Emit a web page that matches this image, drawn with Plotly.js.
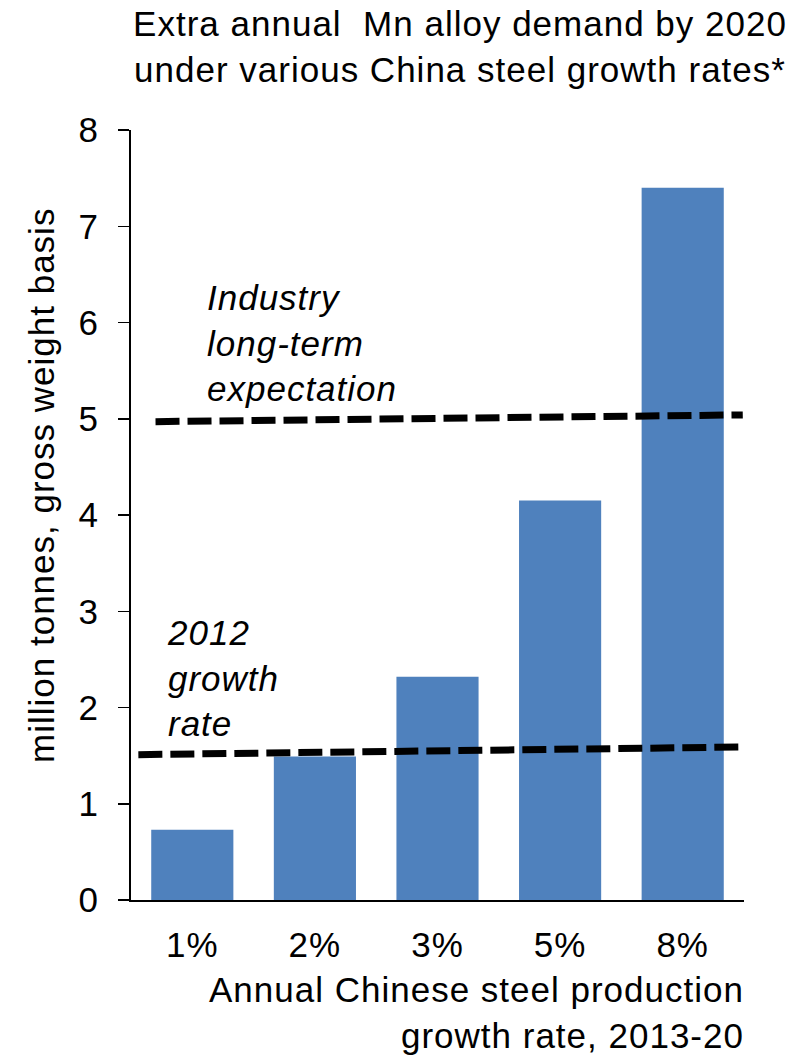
<!DOCTYPE html>
<html><head><meta charset="utf-8">
<script src="https://cdn.plot.ly/plotly-3.0.1.min.js"></script>
<style>
html,body{margin:0;padding:0;background:#fff;}
#chart text{letter-spacing:1px;}
</style></head>
<body><div id="chart" style="width:807px;height:1055px;"></div>
<script>
// ---- data ----
const categories = ['1%', '2%', '3%', '5%', '8%'];
const demand = [0.73, 1.49, 2.32, 4.15, 7.40];
const expectationX = [-0.30, 4.49];
const expectationY = [4.97, 5.04];
const growth2012X = [-0.44, 4.49];
const growth2012Y = [1.51, 1.59];
const yTickVals = [0, 1, 2, 3, 4, 5, 6, 7, 8];
const titleText = 'Extra annual \u00a0Mn alloy demand by 2020<br>under various China steel growth rates*';
const yTitleText = 'million tonnes, gross weight basis';
const xTitleText = 'Annual Chinese steel production<br>growth rate, 2013-20';
const noteExpectation = 'Industry<br>long-term<br>expectation';
const note2012 = '2012<br>growth<br>rate';

const catIdx = categories.map((c, i) => i);
const FONT = '"Liberation Sans", Arial, Helvetica, sans-serif';
const FS = 35;

const traces = [
  {type: 'bar', x: catIdx, y: demand, marker: {color: '#4F81BD', line: {width: 0}}, hoverinfo: 'none'},
  {type: 'scatter', mode: 'lines', x: expectationX, y: expectationY,
   line: {color: '#000', width: 7, dash: '24px,8px'}, hoverinfo: 'none'},
  {type: 'scatter', mode: 'lines', x: growth2012X, y: growth2012Y,
   line: {color: '#000', width: 7, dash: '24px,8px'}, hoverinfo: 'none'}
];

const layout = {
  width: 807, height: 1055,
  margin: {l: 131, r: 63, t: 130, b: 155, pad: 0},
  paper_bgcolor: '#fff', plot_bgcolor: '#fff',
  font: {family: FONT, size: FS, color: '#000'},
  showlegend: false,
  bargap: 0.33,
  title: {
    text: titleText, x: 460 / 807, xref: 'container', xanchor: 'center',
    y: 1 - 36 / 1055, yref: 'container', yanchor: 'top',
    font: {family: FONT, size: FS, color: '#000'}
  },
  xaxis: {
    range: [-0.5, 4.5], tickmode: 'array', tickvals: catIdx, ticktext: categories,
    showline: true, linecolor: '#000', linewidth: 2, ticks: '',
    showgrid: false, zeroline: false, ticklabelstandoff: 13,
    tickfont: {family: FONT, size: FS, color: '#000'}
  },
  yaxis: {
    range: [0, 8], tickmode: 'array', tickvals: yTickVals,
    ticks: 'outside', ticklen: 11, tickwidth: 1.5, tickcolor: '#000',
    showline: true, linecolor: '#000', linewidth: 2,
    showgrid: false, zeroline: false, ticklabelstandoff: 12,
    tickfont: {family: FONT, size: FS, color: '#000'}
  },
  annotations: [
    {text: noteExpectation, xref: 'paper', yref: 'paper', x: 0.1207, y: 0.811,
     xanchor: 'left', yanchor: 'top', align: 'left', showarrow: false,
     font: {family: FONT, size: FS, color: '#000', style: 'italic'}},
    {text: note2012, xref: 'paper', yref: 'paper', x: 0.0555, y: 0.375,
     xanchor: 'left', yanchor: 'top', align: 'left', showarrow: false,
     font: {family: FONT, size: FS, color: '#000', style: 'italic'}},
    {text: yTitleText, xref: 'paper', yref: 'paper', x: -0.1452, y: 0.539,
     xanchor: 'center', yanchor: 'middle', textangle: -90, showarrow: false,
     font: {family: FONT, size: FS, color: '#000'}},
    {text: xTitleText, xref: 'paper', yref: 'paper', x: 1.0033, y: -0.0885,
     xanchor: 'right', yanchor: 'top', align: 'right', showarrow: false,
     font: {family: FONT, size: FS, color: '#000'}}
  ]
};

Plotly.newPlot('chart', traces, layout, {staticPlot: true, displayModeBar: false});
</script>
</body></html>
